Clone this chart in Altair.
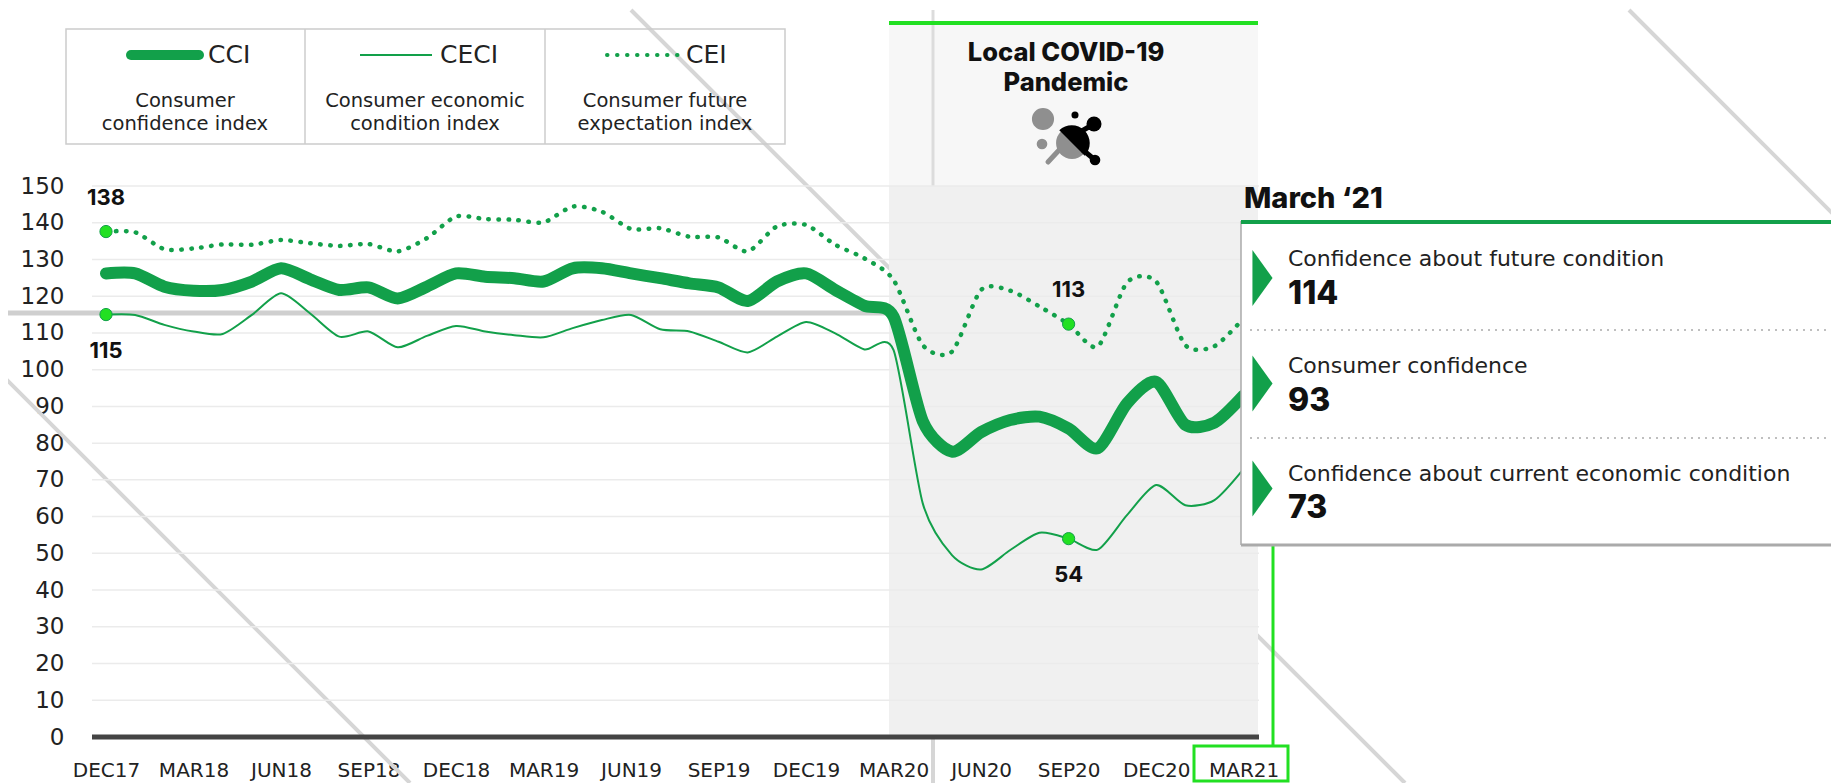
import altair as alt
import pandas as pd

X_LABELS = ["DEC17","MAR18","JUN18","SEP18","DEC18","MAR19","JUN19","SEP19","DEC19","MAR20","JUN20","SEP20","DEC20","MAR21"]
CCI = [126.2,126.2,122.6,121.5,121.7,124,127.6,124.6,121.7,122.4,119.4,122.6,126.2,125.3,124.9,124,127.6,127.6,126.2,124.9,123.5,122.4,118.7,124,126.2,121.7,117.4,114.4,86,77.7,83,86.3,87.2,84,78.6,90.8,96.7,85,85.6,93]
CECI = [115,114.9,112.2,110.4,109.7,114.9,120.8,115.3,109,110.4,106.1,109.2,111.9,110.4,109.4,108.8,111.3,113.5,114.9,111,110.4,107.6,104.7,109,113,109.9,105.5,105.3,63.6,49.5,45.6,50.9,55.6,54,51,60.4,68.6,63.1,64.5,73]
CEI = [137.6,137.4,132.8,133,134.1,134,135.3,134.4,133.7,134.2,132.2,135.8,141.7,141,140.8,140.1,144.4,143,138.3,138.5,136.2,136,132.2,139,139.4,134,130.3,124.4,106.7,104.9,121.7,121.5,117.2,112.4,106.3,123.7,124,106.7,106.4,114]
MARK_MONTH = [0,0,33,33]
MARK_VALUE = [137.6,115,112.4,54]
MARK_LABEL = ["138","115","113","54"]
MARK_SIDE = ["up","down","up","down"]
Y_TICKS = list(range(0,151,10))

SANS = "DejaVu Sans"
BOLD = "Inter"
GREEN = "#12a04a"
LIME = "#22e022"
W, H = 1167, 551
L, T = 84 + 8, 178 + 8

def px(x): return alt.value(x - L)
def py(y): return alt.value(y - T)

months = list(range(len(CCI)))
df = pd.DataFrame({"m": months, "CCI": CCI, "CECI": CECI, "CEI": CEI})
x_scale = alt.Scale(domain=[-14/29.17, (W-14)/29.17], nice=False, zero=False)
y_scale = alt.Scale(domain=[0,150], nice=False)
x_axis = alt.Axis(values=months[::3], labelExpr="[%s][datum.value/3]" % ",".join("'%s'"%s for s in X_LABELS),
        domain=False, ticks=False, grid=False, title=None, labelFont=SANS, labelFontSize=20, labelColor="#222", labelPadding=23, labelOverlap=False, labelFlush=False)
y_axis = alt.Axis(values=Y_TICKS, domain=False, ticks=False, grid=False, title=None, labelFont=SANS, labelFontSize=23, labelColor="#222", labelPadding=28)
x_enc = alt.X("m:Q", scale=x_scale, axis=x_axis)
def y_of(f): return alt.Y(f, scale=y_scale, axis=y_axis)
y_enc = y_of("v:Q")

one = pd.DataFrame({"a":[0]})
layers = []

def seg(x1, y1, x2, y2, color="#d6d6d6", width=4, **kw):
    return alt.Chart(one).mark_rule(color=color, strokeWidth=width, **kw).encode(
        x=px(x1), y=py(y1), x2=px(x2), y2=py(y2))

def label(t, x, y, size=18, weight=400, align="center", color="#222", font=SANS):
    return alt.Chart(one).mark_text(text=t, font=font, fontSize=size, fontWeight=weight, align=align, baseline="middle", color=color).encode(
        x=px(x), y=py(y))

def blob(x, y, d, color, shape="circle"):
    return alt.Chart(one).mark_point(shape=shape, filled=True, size=d*d*(0.785 if shape=="circle" else 1), color=color, opacity=1).encode(
        x=px(x), y=py(y))

# backdrop diagonals and rules
layers += [seg(631,10,1405,783), seg(1629,10,1839,220), seg(0,373,410,783),
           seg(8,313,889,313,color="#cfcfcf",width=5), seg(933,737,933,783)]

# shaded period
layers.append(alt.Chart(one).mark_rect(color="#f7f7f7").encode(x=px(889), x2=px(1258), y=py(23), y2=py(186)))
layers.append(alt.Chart(one).mark_rect(color="#f0f0f0").encode(x=px(889), x2=px(1258), y=py(186), y2=py(737)))
layers.append(seg(933,10,933,186,color="#dcdcdc",width=3))
layers.append(seg(889,23,1258,23,color=LIME,width=4))

# grid + axis (real scales)
layers.append(alt.Chart(pd.DataFrame({"v":Y_TICKS[1:]})).mark_rule(color="#ebebeb", strokeWidth=1.5).encode(y=y_enc))
layers.append(alt.Chart(pd.DataFrame({"v":[0]})).mark_rule(color="#444444", strokeWidth=5).encode(y=y_enc))

# series
smooth = dict(interpolate="cardinal", tension=0.25)
layers.append(alt.Chart(df).mark_line(color=GREEN, strokeWidth=2, **smooth).encode(x=x_enc, y=y_of("CECI:Q")))
layers.append(alt.Chart(df).mark_line(color=GREEN, strokeWidth=4.5, strokeDash=[0.5,9.5], strokeCap="round", **smooth).encode(x=x_enc, y=y_of("CEI:Q")))
layers.append(alt.Chart(df).mark_line(color=GREEN, strokeWidth=12, strokeCap="round", **smooth).encode(x=x_enc, y=y_of("CCI:Q")))

# annotated points
mk = pd.DataFrame({"m":MARK_MONTH,"v":MARK_VALUE,"t":MARK_LABEL,"side":MARK_SIDE})
layers.append(alt.Chart(mk).mark_point(filled=True, size=150, color=LIME, opacity=1, stroke=GREEN, strokeWidth=1).encode(x=x_enc, y=y_enc))
layers.append(alt.Chart(mk[mk.side=="up"]).mark_text(font=BOLD, fontSize=22, fontWeight=700, dy=-34, color="#111").encode(x=x_enc, y=y_enc, text="t:N"))
layers.append(alt.Chart(mk[mk.side=="down"]).mark_text(font=BOLD, fontSize=22, fontWeight=700, dy=36, color="#111").encode(x=x_enc, y=y_enc, text="t:N"))

# legend box
layers.append(alt.Chart(one).mark_rect(fillOpacity=0, stroke="#cccccc", strokeWidth=1.5).encode(x=px(66), x2=px(785), y=py(29), y2=py(144)))
layers += [seg(305,29,305,144,color="#cccccc",width=1.5), seg(545,29,545,144,color="#cccccc",width=1.5)]
layers.append(seg(131,55,199,55,color=GREEN,width=10,strokeCap="round"))
layers.append(seg(360,55,432,55,color=GREEN,width=2))
layers.append(seg(607,55,680,55,color=GREEN,width=4,strokeDash=[0.5,9.5],strokeCap="round"))
layers += [label("CCI",208,55,25,400,"left"), label("CECI",440,55,25,400,"left"), label("CEI",686,55,25,400,"left")]
for cx, a, b in [(185,"Consumer","confidence index"),(425,"Consumer economic","condition index"),(665,"Consumer future","expectation index")]:
    layers += [label(a,cx,101,19.5), label(b,cx,124,19.5)]

# covid header
layers += [label("Local COVID-19",1066,53,25.5,800,color="#111",font=BOLD), label("Pandemic",1066,83,25.5,800,color="#111",font=BOLD)]
layers += [seg(1061,148,1048,162,color="#8f8f8f",width=5,strokeCap="round")]
for x,y,d,c in [(1043,119,25,"#8f8f8f"),(1042,144,12,"#8f8f8f"),(1072,143,36,"#8f8f8f"),
                (1075,115,8,"#000"),(1094,124,17,"#000"),(1095,160,12,"#000")]:
    layers.append(blob(x,y,d,c))
layers.append(blob(1072,143,36,"#000",shape="M-0.707,-0.707A1,1 0 0 1 0.707,0.707Z"))
layers += [seg(1080,132,1094,124,color="#000",width=5), seg(1083,150,1095,160,color="#000",width=5)]

# vertical marker + MAR21 box (under panel)
layers.append(seg(1273,545,1273,746,color=LIME,width=3))
layers.append(alt.Chart(one).mark_rect(fillOpacity=0, stroke=LIME, strokeWidth=3).encode(x=px(1194), x2=px(1288), y=py(746), y2=py(781)))

# tooltip panel
layers.append(alt.Chart(one).mark_rect(color="white").encode(x=px(1241), x2=px(1839), y=py(221), y2=py(545)))
layers += [seg(1241,221,1241,545,color="#aaaaaa",width=1.5), seg(1241,545,1839,545,color="#aaaaaa",width=3), seg(1241,222,1839,222,color=GREEN,width=4)]
layers.append(label("March ‘21",1244,199,29,800,"left","#111",font=BOLD))
for ty,tt,vy,vt,tri in [(259,"Confidence about future condition",294,"114",278),(366,"Consumer confidence",401,"93",383.5),(474,"Confidence about current economic condition",508,"73",488.5)]:
    layers += [label(tt,1288,ty,22,400,"left"), label(vt,1288,vy,32,800,"left","#111",font=BOLD)]
    layers.append(alt.Chart(one).mark_point(shape="M-0.36,-1L0.36,0L-0.36,1Z", filled=True, size=3136, color=GREEN, opacity=1).encode(x=px(1262.5), y=py(tri)))
layers += [seg(1250,330,1839,330,color="#aaaaaa",width=1.5,strokeDash=[2,5]), seg(1250,438,1839,438,color="#aaaaaa",width=1.5,strokeDash=[2,5])]

chart = alt.layer(*layers).resolve_scale(x="shared", y="shared").properties(
    width=W, height=H, autosize=alt.AutoSizeParams(type="none"),
    padding={"left":84,"top":178,"right":572,"bottom":46}
).configure_view(stroke=None)
chart.save("out.html", embed_options={"renderer":"svg","actions":False})
